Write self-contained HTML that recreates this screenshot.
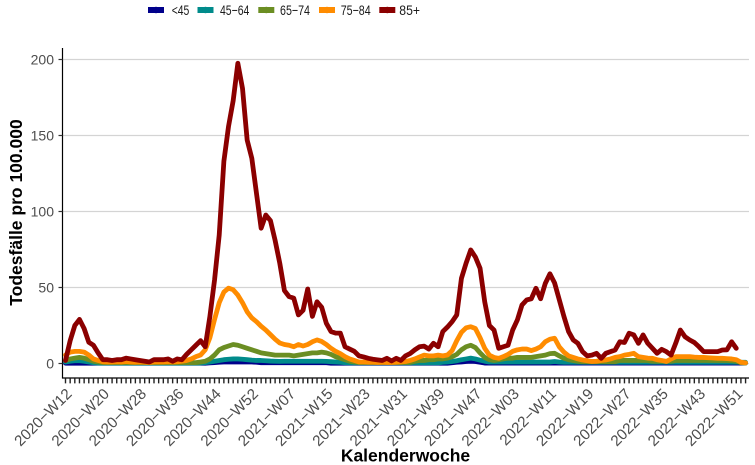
<!DOCTYPE html>
<html><head><meta charset="utf-8"><style>
html,body{margin:0;padding:0;background:#fff;}
svg{display:block;}
.tl{font-family:"Liberation Sans",Arial,sans-serif;font-size:14px;fill:#4d4d4d;}
.xl{font-family:"Liberation Sans",Arial,sans-serif;font-size:15.2px;fill:#4d4d4d;}
.lg{font-family:"Liberation Sans",Arial,sans-serif;font-size:14px;fill:#1a1a1a;}
.ti{font-family:"Liberation Sans",Arial,sans-serif;font-size:17.5px;font-weight:bold;fill:#000;}
.s{fill:none;stroke-width:4.8;stroke-linejoin:round;stroke-linecap:round;vector-effect:non-scaling-stroke;}
</style></head><body>
<svg width="755" height="465" viewBox="0 0 755 465" xmlns="http://www.w3.org/2000/svg">
<rect width="755" height="465" fill="#fff"/>
<!-- legend -->
<rect x="148" y="7" width="16" height="6" fill="#00008B"/><circle cx="156" cy="10" r="3.2" fill="#00008B"/>
<text class="lg" x="171.7" y="15.2" textLength="17.6" lengthAdjust="spacingAndGlyphs">&lt;45</text>
<rect x="197.5" y="7" width="16" height="6" fill="#008B8B"/><circle cx="205.5" cy="10" r="3.2" fill="#008B8B"/>
<text class="lg" x="220" y="15.2" textLength="29.3" lengthAdjust="spacingAndGlyphs">45−64</text>
<rect x="258.3" y="7" width="16" height="6" fill="#6B8E23"/><circle cx="266.3" cy="10" r="3.2" fill="#6B8E23"/>
<text class="lg" x="280" y="15.2" textLength="30" lengthAdjust="spacingAndGlyphs">65−74</text>
<rect x="319" y="7" width="16" height="6" fill="#FF8C00"/><circle cx="327" cy="10" r="3.2" fill="#FF8C00"/>
<text class="lg" x="340.7" y="15.2" textLength="30" lengthAdjust="spacingAndGlyphs">75−84</text>
<rect x="379.3" y="7" width="16" height="6" fill="#8B0000"/><circle cx="387.3" cy="10" r="3.2" fill="#8B0000"/>
<text class="lg" x="399.3" y="15.2" textLength="20.7" lengthAdjust="spacingAndGlyphs">85+</text>

<!-- gridlines -->
<g stroke="#d4d4d4" stroke-width="1.2">
<line x1="63" y1="59.5" x2="749" y2="59.5"/>
<line x1="63" y1="135.5" x2="749" y2="135.5"/>
<line x1="63" y1="211.5" x2="749" y2="211.5"/>
<line x1="63" y1="287.5" x2="749" y2="287.5"/>
<line x1="63" y1="363.5" x2="749" y2="363.5"/>
</g>

<!-- series -->
<g transform="translate(65.5,363.5) scale(4.658,-1.52)">
<polyline class="s" stroke="#00008B" points="0,0.2 30,0.2 31,0.4 32,0.6 33,0.8 34,1 40,1 41,0.8 42,0.5 56,0.5 57,0.2 82,0.2 83,0.5 84,0.8 85,1 86,1.3 87,1.5 88,1.3 89,0.8 90,0.3 146,0.3"/>
<polyline class="s" stroke="#008B8B" points="0,1 1,1.5 2,1.8 3,1.8 4,1.5 5,1 6,0.5 7,0.3 29,0.3 30,0.6 31,1 32,1.5 33,2 34,2.5 35,2.8 36,3 37,3 38,2.8 39,2.5 40,2.2 41,2 42,2 43,1.8 44,1.6 45,1.5 46,1.4 47,1.5 55,1.5 56,1.4 57,1.2 58,1 59,0.8 60,0.5 61,0.4 80,0.4 81,0.8 82,1 83,1.3 84,1.8 85,2.5 86,3 87,3.5 88,3 89,2.2 90,1.5 91,1 104,1 105,1.3 106,1 107,0.8 146,0.8"/>
<polyline class="s" stroke="#6B8E23" points="0,2 1,3 2,3.5 3,4 4,3.5 5,2.5 6,1.5 7,1 8,0.6 28,0.6 29,1 30,1.5 31,3 32,5.6 33,9 34,10.5 35,11.5 36,12.5 37,12 38,11 39,10 40,9 41,8 42,7 43,6.5 44,6 45,5.5 48,5.5 49,5 50,5.5 51,6 52,6.5 53,7 54,7 55,7.5 56,7 57,6 58,4.5 59,3.5 60,2.5 61,1.5 62,1 63,0.7 74,0.7 75,1.5 76,2 77,2 78,2.5 79,2.5 80,3 81,3 82,3.5 83,4.5 84,6 85,9 86,11 87,12 88,10.5 89,7 90,4 91,2.5 92,2 93,2.5 94,3 95,3.5 96,3.5 97,4 100,4 101,4.5 102,5 103,5.5 104,6.5 105,6.7 106,5 107,3.5 108,2.5 109,2 110,1.5 111,1.2 118,1.2 119,2 125,2 126,1.5 130,1.5 131,2 142,2 143,1.8 144,1.5 145,0.5 146,0.3"/>
<polyline class="s" stroke="#FF8C00" points="0,5.6 1,7.5 2,8 3,8 4,7.5 5,5.6 6,3 7,2 8,1.2 9,1 10,1 11,1.2 12,1 13,1.3 14,1 15,0.8 16,1 17,0.8 18,0.7 19,1 20,1 21,1 22,1.2 23,1 24,1.2 25,1.5 26,2 27,3 28,4.5 29,5.6 30,9 31,17 32,29 33,40 34,47 35,49.6 36,48.5 37,45 38,40 39,34 40,30 41,27.5 42,24.5 43,22 44,19 45,16 46,13.5 47,12.5 48,12 49,11 50,12.5 51,11.5 52,12.5 53,14.3 54,15.5 55,14.5 56,12.5 57,10 58,8 59,6.5 60,4.5 61,3 62,2 63,1 64,1 65,0.8 66,0.8 67,0.7 68,0.8 69,0.7 70,0.7 71,0.8 72,1 73,1.3 74,2 75,3 76,4.3 77,5.5 78,5 79,5 80,5.5 81,5 82,5.6 83,8.5 84,15 85,20.5 86,23.5 87,24.2 88,23 89,17 90,10 91,5.5 92,4 93,3.4 94,4.5 95,6 96,8 97,9 98,9.5 99,9.5 100,8.5 101,9.5 102,11 103,14.3 104,16 105,16.6 106,11 107,7.5 108,5 109,4 110,3 111,2.3 112,1.8 113,1.3 114,1.5 115,2 116,2.3 117,3 118,4 119,4.5 120,5.5 121,6 122,6.7 123,4.5 124,4 125,3.5 126,3.4 127,2.5 128,2 129,1.3 130,3 131,4.5 132,4.5 133,4.5 134,4.5 135,4.2 136,4 137,4 138,3.8 139,3.6 140,3.4 141,3.4 142,3.2 143,3 144,2.5 145,0.8 146,0.5"/>
<polyline class="s" stroke="#8B0000" points="0,2 1,15 2,25 3,29 4,23 5,14 6,12 7,7 8,2.5 9,2.5 10,2 11,2.5 12,2.5 13,3.5 14,3 15,2.5 16,2 17,1.5 18,1 19,2.5 20,2.5 21,2.5 22,3 23,1.5 24,3 25,2.5 26,6 27,9 28,12 29,15 30,11 31,31 32,55 33,84.5 34,133 35,156 36,173 37,197.5 38,181 39,147 40,135 41,112 42,89 43,97.7 44,94 45,81 46,66 47,48 48,44 49,43 50,32 51,35 52,49 53,31 54,40.6 55,37 56,26.4 57,21 58,20 59,20 60,11 61,9.5 62,8 63,5 64,4.3 65,3.4 66,2.8 67,2.4 68,2 69,3.4 70,1.7 71,3.4 72,2 73,5 74,6.6 75,9 76,11 77,11.4 78,9.5 79,13.3 80,11 81,21 82,24 83,27.5 84,32 85,56 86,66 87,74.7 88,70 89,62.6 90,40.6 91,25 92,22 93,10 94,11 95,12 96,22 97,28.6 98,38.5 99,41.8 100,42.6 101,49.5 102,42.6 103,52.7 104,59 105,53 106,42 107,31 108,21 109,15.5 110,13.3 111,7.8 112,5 113,5.5 114,6.7 115,3.4 116,6.7 117,7.8 118,8.9 119,14.3 120,13.8 121,19.9 122,18.8 123,13.3 124,18.8 125,13.3 126,10 127,6.7 128,9.3 129,7.8 130,5.5 131,13.3 132,22 133,17.6 134,15.5 135,13.8 136,11 137,7.8 138,7.8 139,7.8 140,7.8 141,8.9 142,9 143,14.3 144,10"/>
</g>

<!-- axes -->
<line x1="62.5" y1="48" x2="62.5" y2="378.5" stroke="#000" stroke-width="1.2"/>
<line x1="62" y1="378" x2="749" y2="378" stroke="#000" stroke-width="1.2"/>
<g stroke="#333" stroke-width="1.2">
<line x1="58.5" y1="59.5" x2="62.5" y2="59.5"/>
<line x1="58.5" y1="135.5" x2="62.5" y2="135.5"/>
<line x1="58.5" y1="211.5" x2="62.5" y2="211.5"/>
<line x1="58.5" y1="287.5" x2="62.5" y2="287.5"/>
<line x1="58.5" y1="363.5" x2="62.5" y2="363.5"/>
</g>
<!-- x ticks -->
<line x1="64.8" y1="380.8" x2="747" y2="380.8" stroke="#222" stroke-width="5.2" stroke-dasharray="1.4 3.258"/>

<!-- y tick labels -->
<text class="tl" x="54" y="64.5" text-anchor="end">200</text>
<text class="tl" x="54" y="140.5" text-anchor="end">150</text>
<text class="tl" x="54" y="216.5" text-anchor="end">100</text>
<text class="tl" x="54" y="292.5" text-anchor="end">50</text>
<text class="tl" x="54" y="368.5" text-anchor="end">0</text>

<!-- x tick labels -->
<g class="xl" text-anchor="end">
<text transform="translate(65,387) rotate(-45)" dy="0.72em">2020−W12</text>
<text transform="translate(102.3,387) rotate(-45)" dy="0.72em">2020−W20</text>
<text transform="translate(139.5,387) rotate(-45)" dy="0.72em">2020−W28</text>
<text transform="translate(176.8,387) rotate(-45)" dy="0.72em">2020−W36</text>
<text transform="translate(214.1,387) rotate(-45)" dy="0.72em">2020−W44</text>
<text transform="translate(251.3,387) rotate(-45)" dy="0.72em">2020−W52</text>
<text transform="translate(288.6,387) rotate(-45)" dy="0.72em">2021−W07</text>
<text transform="translate(325.9,387) rotate(-45)" dy="0.72em">2021−W15</text>
<text transform="translate(363.1,387) rotate(-45)" dy="0.72em">2021−W23</text>
<text transform="translate(400.4,387) rotate(-45)" dy="0.72em">2021−W31</text>
<text transform="translate(437.6,387) rotate(-45)" dy="0.72em">2021−W39</text>
<text transform="translate(474.9,387) rotate(-45)" dy="0.72em">2021−W47</text>
<text transform="translate(512.2,387) rotate(-45)" dy="0.72em">2022−W03</text>
<text transform="translate(549.4,387) rotate(-45)" dy="0.72em">2022−W11</text>
<text transform="translate(586.7,387) rotate(-45)" dy="0.72em">2022−W19</text>
<text transform="translate(624,387) rotate(-45)" dy="0.72em">2022−W27</text>
<text transform="translate(661.2,387) rotate(-45)" dy="0.72em">2022−W35</text>
<text transform="translate(698.5,387) rotate(-45)" dy="0.72em">2022−W43</text>
<text transform="translate(735.8,387) rotate(-45)" dy="0.72em">2022−W51</text>
</g>

<!-- axis titles -->
<text class="ti" x="405.5" y="461.5" text-anchor="middle">Kalenderwoche</text>
<text class="ti" transform="translate(22,212.5) rotate(-90)" text-anchor="middle">Todesfälle pro 100.000</text>
</svg>
</body></html>
